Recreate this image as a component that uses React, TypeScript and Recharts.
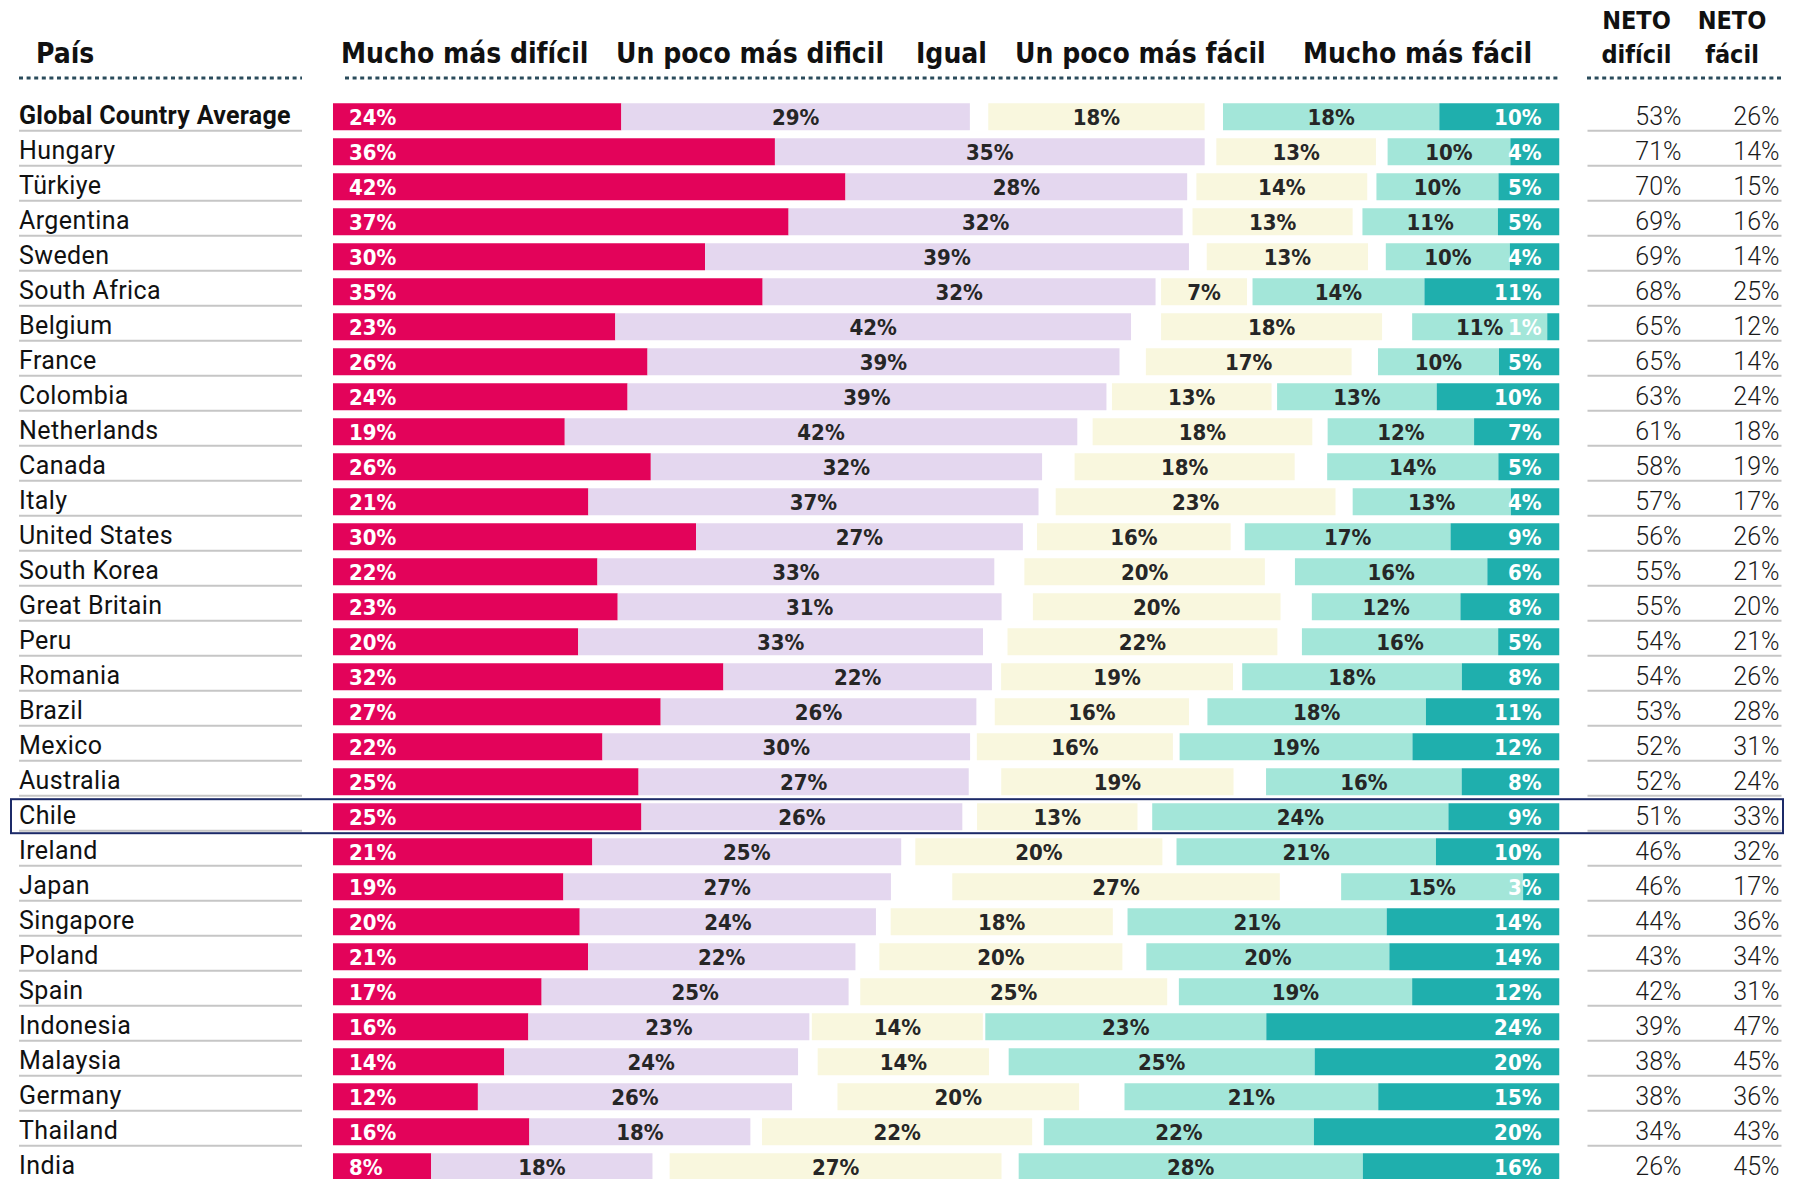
import React from 'react';
import { BarChart, Bar, XAxis, YAxis, LabelList } from 'recharts';

const paises = [
  'Global Country Average', 'Hungary', 'Türkiye', 'Argentina', 'Sweden', 'South Africa', 'Belgium',
  'France', 'Colombia', 'Netherlands', 'Canada', 'Italy', 'United States', 'South Korea',
  'Great Britain', 'Peru', 'Romania', 'Brazil', 'Mexico', 'Australia', 'Chile', 'Ireland', 'Japan',
  'Singapore', 'Poland', 'Spain', 'Indonesia', 'Malaysia', 'Germany', 'Thailand', 'India',
];
const muchoDificil = [24, 36, 42, 37, 30, 35, 23, 26, 24, 19, 26, 21, 30, 22, 23, 20, 32, 27, 22, 25, 25, 21, 19, 20, 21, 17, 16, 14, 12, 16, 8];
const pocoDificil = [29, 35, 28, 32, 39, 32, 42, 39, 39, 42, 32, 37, 27, 33, 31, 33, 22, 26, 30, 27, 26, 25, 27, 24, 22, 25, 23, 24, 26, 18, 18];
const igual = [18, 13, 14, 13, 13, 7, 18, 17, 13, 18, 18, 23, 16, 20, 20, 22, 19, 16, 16, 19, 13, 20, 27, 18, 20, 25, 14, 14, 20, 22, 27];
const pocoFacil = [18, 10, 10, 11, 10, 14, 11, 10, 13, 12, 14, 13, 17, 16, 12, 16, 18, 18, 19, 16, 24, 21, 15, 21, 20, 19, 23, 25, 21, 22, 28];
const muchoFacil = [10, 4, 5, 5, 4, 11, 1, 5, 10, 7, 5, 4, 9, 6, 8, 5, 8, 11, 12, 8, 9, 10, 3, 14, 14, 12, 24, 20, 15, 20, 16];
const netoDificil = [53, 71, 70, 69, 69, 68, 65, 65, 63, 61, 58, 57, 56, 55, 55, 54, 54, 53, 52, 52, 51, 46, 46, 44, 43, 42, 39, 38, 38, 34, 26];
const netoFacil = [26, 14, 15, 16, 14, 25, 12, 14, 24, 18, 19, 17, 26, 21, 20, 21, 26, 28, 31, 24, 33, 32, 17, 36, 34, 31, 47, 45, 36, 43, 45];
// share not shown (no sabe), estimated from the gaps around "Igual"
const noSabe = [3.0, 1.9, 1.5, 1.6, 2.9, 0.9, 4.9, 4.3, 0.9, 2.5, 5.3, 2.8, 2.3, 4.9, 5.1, 4.0, 1.5, 3.0, 1.1, 5.3, 2.4, 2.3, 10.0, 2.4, 3.9, 1.9, 0.4, 3.2, 7.4, 1.9, 2.8];

const encabezados = ['Mucho más difícil', 'Un poco más dificil', 'Igual', 'Un poco más fácil', 'Mucho más fácil'];

const C = {
  md: '#E3035A',
  pd: '#E4D7EF',
  ig: '#F9F7DE',
  pf: '#A3E6D9',
  mf: '#1FAFAD',
  dark: '#262626',
  dots: '#2A4B5B',
  rule: '#C6C6C6',
  box: '#1C2A68',
};

const rows = paises.map((pais, i) => {
  const vis = muchoDificil[i] + pocoDificil[i] + igual[i] + pocoFacil[i] + muchoFacil[i];
  const k = (100 - noSabe[i]) / vis;
  return {
    pais,
    md: muchoDificil[i],
    pd: pocoDificil[i],
    ig: igual[i],
    pf: pocoFacil[i],
    mf: muchoFacil[i],
    mdN: muchoDificil[i] * k,
    pdN: pocoDificil[i] * k,
    s1: noSabe[i] / 2,
    igN: igual[i] * k,
    s2: noSabe[i] / 2,
    pfN: pocoFacil[i] * k,
    mfN: muchoFacil[i] * k,
    netoD: netoDificil[i],
    netoF: netoFacil[i],
  };
});

const LABEL_FONT = "'DejaVu Sans Condensed', 'DejaVu Sans', sans-serif";
const HEAD_FONT = "'DejaVu Sans Condensed', 'DejaVu Sans', sans-serif";
const NAME_FONT = "Roboto, 'Noto Sans', sans-serif";

function box(p: any) {
  const vb = p.viewBox || {};
  const x = p.x ?? vb.x;
  const y = p.y ?? vb.y;
  const width = p.width ?? vb.width;
  const height = p.height ?? vb.height;
  return { x: Number(x), y: Number(y), width: Number(width), height: Number(height) };
}

const makeLabel = (mode: 'left' | 'center' | 'right', color: string) => (p: any) => {
  const { x, y, width, height } = box(p);
  const cy = y + height / 2;
  let tx = x + width / 2;
  let anchor: 'start' | 'middle' | 'end' = 'middle';
  if (mode === 'left') {
    tx = x + 16;
    anchor = 'start';
  } else if (mode === 'right') {
    tx = x + width - 18;
    anchor = 'end';
  }
  return (
    <text x={tx} y={cy + 8.3} textAnchor={anchor} fill={color} fontFamily={LABEL_FONT} fontWeight={700} fontSize={22}>
      {p.value}%
    </text>
  );
};

const NetoDLabel = (p: any) => {
  const { x, y, width, height } = box(p);
  const cy = y + height / 2;
  const right = x + width;
  return (
    <g>
      <line x1={right + 28} x2={right + 222} y1={cy + 14} y2={cy + 14} stroke={C.rule} strokeWidth={2} />
      <text x={right + 122} y={cy + 8} textAnchor="end" fill="#1a1a1a" fontFamily={NAME_FONT} fontWeight={300} fontSize={25}>
        {p.value}%
      </text>
    </g>
  );
};

const NetoFLabel = (p: any) => {
  const { x, y, width, height } = box(p);
  const cy = y + height / 2;
  const right = x + width;
  return (
    <text x={right + 220} y={cy + 8} textAnchor="end" fill="#1a1a1a" fontFamily={NAME_FONT} fontWeight={300} fontSize={25}>
      {p.value}%
    </text>
  );
};

const CountryTick = (p: any) => {
  const { y, payload } = p;
  const name = payload.value as string;
  const bold = name === paises[0];
  return (
    <g>
      {name === 'Chile' && (
        <rect x={11} y={y - 17.5} width={1772} height={34} fill="none" stroke={C.box} strokeWidth={2} />
      )}
      <text
        x={19}
        y={y + 7}
        textAnchor="start"
        fill="#111"
        fontFamily={NAME_FONT}
        fontWeight={bold ? 700 : 400}
        fontSize={25}
        letterSpacing={bold ? 0.3 : 0.4}
      >
        {name}
      </text>
      <line x1={19} x2={302} y1={y + 14} y2={y + 14} stroke={C.rule} strokeWidth={2} />
    </g>
  );
};

const headX = [341, 616, 916, 1015, 1303];

export default function App() {
  return (
    <div style={{ position: 'absolute', left: 0, top: 0, width: 1806, height: 1179, overflow: 'hidden', background: '#fff' }}>
      <BarChart
        width={1806}
        height={1200}
        data={rows}
        layout="vertical"
        margin={{ top: 99.2, right: 246.5, bottom: 15.8, left: 0 }}
        barCategoryGap={0}
      >
        <XAxis type="number" domain={[0, 100]} hide allowDataOverflow />
        <YAxis
          type="category"
          dataKey="pais"
          width={332.9}
          axisLine={false}
          tickLine={false}
          interval={0}
          tick={(p: any) => <CountryTick {...p} />}
        />
        <Bar dataKey="mdN" stackId="a" fill={C.md} barSize={27} isAnimationActive={false}>
          <LabelList dataKey="md" content={makeLabel('left', '#fff')} />
        </Bar>
        <Bar dataKey="pdN" stackId="a" fill={C.pd} barSize={27} isAnimationActive={false}>
          <LabelList dataKey="pd" content={makeLabel('center', C.dark)} />
        </Bar>
        <Bar dataKey="s1" stackId="a" fill="none" barSize={27} isAnimationActive={false} />
        <Bar dataKey="igN" stackId="a" fill={C.ig} barSize={27} isAnimationActive={false}>
          <LabelList dataKey="ig" content={makeLabel('center', C.dark)} />
        </Bar>
        <Bar dataKey="s2" stackId="a" fill="none" barSize={27} isAnimationActive={false} />
        <Bar dataKey="pfN" stackId="a" fill={C.pf} barSize={27} isAnimationActive={false}>
          <LabelList dataKey="pf" content={makeLabel('center', C.dark)} />
        </Bar>
        <Bar dataKey="mfN" stackId="a" fill={C.mf} barSize={27} isAnimationActive={false}>
          <LabelList dataKey="mf" content={makeLabel('right', '#fff')} />
          <LabelList dataKey="netoD" content={NetoDLabel} />
          <LabelList dataKey="netoF" content={NetoFLabel} />
        </Bar>
      </BarChart>
      <svg width={1806} height={90} style={{ position: 'absolute', left: 0, top: 0 }}>
        <g fontFamily={HEAD_FONT} fontWeight={700} fill="#111">
          <text x={36} y={63} fontSize={28}>País</text>
          {encabezados.map((t, i) => (
            <text key={t} x={headX[i]} y={63} fontSize={28}>{t}</text>
          ))}
          <text x={1636.5} y={29.3} fontSize={25} textAnchor="middle">NETO</text>
          <text x={1636.5} y={63.3} fontSize={25} textAnchor="middle">difícil</text>
          <text x={1732} y={29.3} fontSize={25} textAnchor="middle">NETO</text>
          <text x={1732} y={63.3} fontSize={25} textAnchor="middle">fácil</text>
        </g>
        <g stroke={C.dots} strokeWidth={3} strokeDasharray="4 3.6">
          <line x1={19} x2={302} y1={78} y2={78} />
          <line x1={345} x2={1559} y1={78} y2={78} />
          <line x1={1587} x2={1782} y1={78} y2={78} />
        </g>
      </svg>
    </div>
  );
}
